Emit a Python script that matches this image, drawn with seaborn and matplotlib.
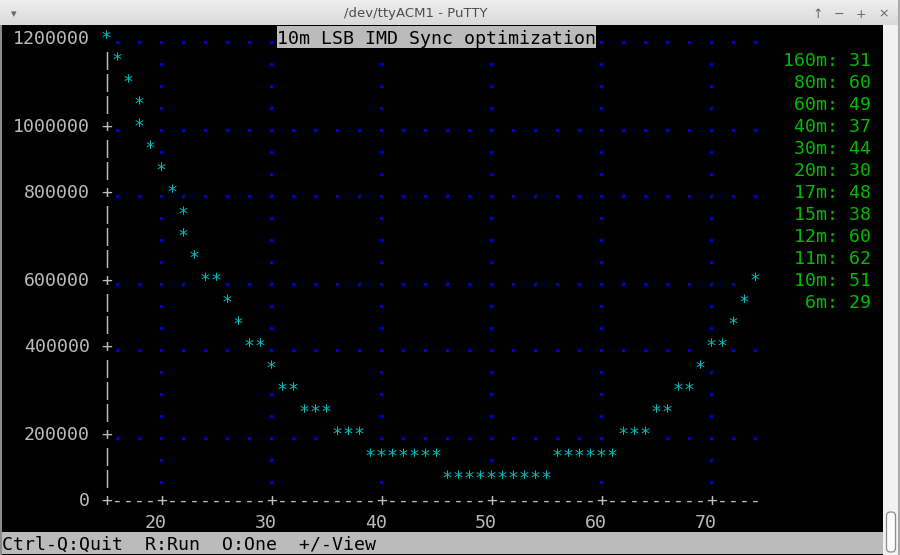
import numpy as np
import pandas as pd
import matplotlib
matplotlib.use("Agg")
import matplotlib.pyplot as plt
import seaborn as sns
from matplotlib.textpath import TextPath
from matplotlib.font_manager import FontProperties
from matplotlib.path import Path
from matplotlib.transforms import ScaledTranslation
from matplotlib.patches import Rectangle, FancyBboxPatch
from matplotlib.colors import LinearSegmentedColormap

# ---------------- data ----------------
window_title = "/dev/ttyACM1 - PuTTY"
chart_title = "10m LSB IMD Sync optimization"
status_line = "Ctrl-Q:Quit  R:Run  O:One  +/-View"

sweep_x = [15, 16, 17, 18, 18, 19, 20, 21, 22, 22, 23, 24, 25, 26, 27, 28, 29, 30,
           31, 32, 33, 34, 35, 36, 37, 38, 39, 40, 41, 42, 43, 44, 45, 46, 47, 48,
           49, 50, 51, 52, 53, 54, 55, 56, 57, 58, 59, 60, 61, 62, 63, 64, 65, 66,
           67, 68, 69, 70, 71, 72, 73, 74]
sweep_y = [1200000, 1143000, 1086000, 1029000, 971000, 914000, 857000, 800000,
           743000, 686000, 629000, 571000, 571000, 514000, 457000, 400000, 400000,
           343000, 286000, 286000, 229000, 229000, 229000, 171000, 171000, 171000,
           114000, 114000, 114000, 114000, 114000, 114000, 114000,
           57000, 57000, 57000, 57000, 57000, 57000, 57000, 57000, 57000, 57000,
           114000, 114000, 114000, 114000, 114000, 114000,
           171000, 171000, 171000, 229000, 229000, 286000, 286000, 343000,
           400000, 400000, 457000, 514000, 571000]

band_names = ["160m", "80m", "60m", "40m", "30m", "20m", "17m", "15m", "12m", "11m", "10m", "6m"]
band_counts = [31, 60, 49, 37, 44, 30, 48, 38, 60, 62, 51, 29]

y_tick_values = [0, 200000, 400000, 600000, 800000, 1000000, 1200000]
x_tick_values = [20, 30, 40, 50, 60, 70]

X_MIN, X_MAX = 15, 74
Y_MAX, N_ROWS = 1200000, 21

# ---------------- style ----------------
W, H = 900, 555
MONO = "DejaVu Sans Mono"
FS = 13.15
BASE = 7.0            # baseline below row centre, px
GREY = "#bbbbbb"
CYAN = "#00bbbb"
BLUE = "#0000cc"
GREEN = "#00bb00"

sns.set_style("dark")
plt.rcParams["font.family"] = [MONO, "DejaVu Sans"]

def rc(r):
    return 37 + 22 * r

def glyph_marker(ch, scale=1.0):
    tp = TextPath((0, 0), ch, size=FS, prop=FontProperties(family=MONO))
    adv = 0.6021 * FS
    verts = tp.vertices - np.array([adv / 2.0, 0.0])
    path = Path(verts, tp.codes)
    ms = 2 * np.max(np.abs(verts)) * scale
    return path, ms ** 2

fig = plt.figure(figsize=(9, 5.55), dpi=100, facecolor="#e9e9e9")

# background / window chrome
bg = fig.add_axes([0, 0, 1, 1], zorder=-5)
bg.axis("off")
grad = LinearSegmentedColormap.from_list("tb", ["#efefef", "#d9d9d9"])
bg.imshow(np.linspace(0, 1, 50)[:, None], extent=[0, W, 25, 0], cmap=grad, aspect="auto")
bg.add_patch(Rectangle((2, 25), 881, 530, facecolor="black", edgecolor="none"))
bg.add_patch(Rectangle((0, 25), 2, 530, facecolor="#8c8c8c", edgecolor="none"))
bg.add_patch(Rectangle((883, 25), 17, 530, facecolor="#f2f2f2", edgecolor="none"))
bg.add_patch(Rectangle((898, 0), 2, 555, facecolor="#a8a8a8", edgecolor="none"))
bg.add_patch(FancyBboxPatch((886.5, 512), 9, 40, boxstyle="round,pad=0,rounding_size=4",
                            facecolor="#fbfbfb", edgecolor="#8c8c8c", linewidth=0.9))
bg.text(416, 14, window_title, ha="center", va="center", family="DejaVu Sans",
        fontsize=9.5, color="#4d4d4d")
bg.text(14, 14, "\u25be", ha="center", va="center", family="DejaVu Sans", fontsize=8, color="#666666")
for xi, ic in zip([818, 839, 861, 884], ["\u2191", "\u2212", "+", "\u00d7"]):
    bg.text(xi, 14, ic, ha="center", va="center", family="DejaVu Sans", fontsize=9, color="#666666")
bg.set_xlim(0, W)
bg.set_ylim(H, 0)

# ---------------- main plot ----------------
ax = fig.add_axes([106.5 / W, 1 - 499 / H, 649 / W, 462 / H])
ax.set_facecolor("none")
ax.grid(False)
for s in ax.spines.values():
    s.set_visible(False)

step = Y_MAX / N_ROWS
def row_of(v):
    return int(round(N_ROWS - v / step))

df = pd.DataFrame({"x": sweep_x, "y": sweep_y})
occupied = {(x, row_of(y)) for x, y in zip(sweep_x, sweep_y)}

# terminal snaps tick values down onto the character grid
ytick_pos = [int(v / step + 1e-9) * step for v in y_tick_values]
grid_rows = sorted({row_of(p) for p in ytick_pos if row_of(p) < N_ROWS})

cells = set()
for r in grid_rows:
    for xx in range(X_MIN + 1, X_MAX + 1, 2):
        cells.add((xx, r))
for xt in x_tick_values:
    for r in range(N_ROWS):
        cells.add((xt, r))
cells = sorted(c for c in cells if c not in occupied)
dots = pd.DataFrame({"x": [c[0] for c in cells],
                     "y": [(N_ROWS - c[1]) * step for c in cells]})

base_shift = ScaledTranslation(0, -BASE / 100, fig.dpi_scale_trans)

dot_path, dot_s = glyph_marker(".", scale=1.25)
sns.scatterplot(data=dots, x="x", y="y", marker=dot_path, s=dot_s, color=BLUE,
                linewidth=0, edgecolor="none", ax=ax, clip_on=False, zorder=2)
ax.collections[-1].set_offset_transform(ax.transData + base_shift)

star_path, star_s = glyph_marker("*")
sns.scatterplot(data=df, x="x", y="y", marker=star_path, s=star_s, color=CYAN,
                linewidth=0, edgecolor="none", ax=ax, clip_on=False, zorder=3)
ax.collections[-1].set_offset_transform(ax.transData + base_shift)

# ASCII axes
tick_rows = {row_of(p) for p in ytick_pos}
for r in range(N_ROWS):
    if (X_MIN, r) in occupied:
        continue
    ch = "+" if r in tick_rows else "|"
    t = ax.text(X_MIN, (N_ROWS - r) * step, ch, ha="center", va="baseline",
                color=GREY, family=MONO, fontsize=FS, clip_on=False)
    t.set_transform(ax.transData + base_shift)
for xx in range(X_MIN, X_MAX + 1):
    ch = "+" if (xx == X_MIN or xx in x_tick_values) else "-"
    t = ax.text(xx, 0, ch, ha="center", va="baseline", color=GREY, family=MONO,
                fontsize=FS, clip_on=False)
    t.set_transform(ax.transData + base_shift)

ax.set_xlim(X_MIN, X_MAX)
ax.set_ylim(0, Y_MAX)
ax.set_yticks(ytick_pos, labels=[str(v) for v in y_tick_values])
ax.set_xticks(x_tick_values, labels=[str(v) for v in x_tick_values])
ax.tick_params(axis="both", length=0, labelsize=FS, labelcolor=GREY)
ax.tick_params(axis="y", pad=16.5 * 0.72)
ax.tick_params(axis="x", pad=0)
ax.set_xlabel("")
ax.set_ylabel("")
for lab in ax.get_yticklabels():
    lab.set_family(MONO)
    lab.set_va("baseline")
    lab.set_transform(lab.get_transform() + base_shift)
for lab in ax.get_xticklabels():
    lab.set_family(MONO)
    lab.set_va("baseline")
    lab.set_transform(lab.get_transform() +
                      ScaledTranslation(-5.5 / 100, -(22 + BASE) / 100, fig.dpi_scale_trans))

# ---------------- overlay text (title, legend, status) ----------------
fg = fig.add_axes([0, 0, 1, 1], zorder=5)
fg.set_facecolor("none")
fg.axis("off")
fg.set_xlim(0, W)
fg.set_ylim(H, 0)

fg.add_patch(Rectangle((277, 26), 11 * len(chart_title), 22, facecolor=GREY, edgecolor="none"))
fg.text(277, rc(0) + BASE, chart_title, ha="left", va="baseline", color="black",
        family=MONO, fontsize=FS)

for i, (b, c) in enumerate(zip(band_names, band_counts)):
    fg.text(871, rc(1 + i) + BASE, f"{b}: {c}", ha="right", va="baseline",
            color=GREEN, family=MONO, fontsize=FS)

fg.add_patch(Rectangle((2, 532), 881, 22, facecolor=GREY, edgecolor="none"))
fg.text(2, rc(23) + BASE, status_line, ha="left", va="baseline", color="black",
        family=MONO, fontsize=FS)

fig.savefig("out.png", dpi=100, facecolor=fig.get_facecolor())
